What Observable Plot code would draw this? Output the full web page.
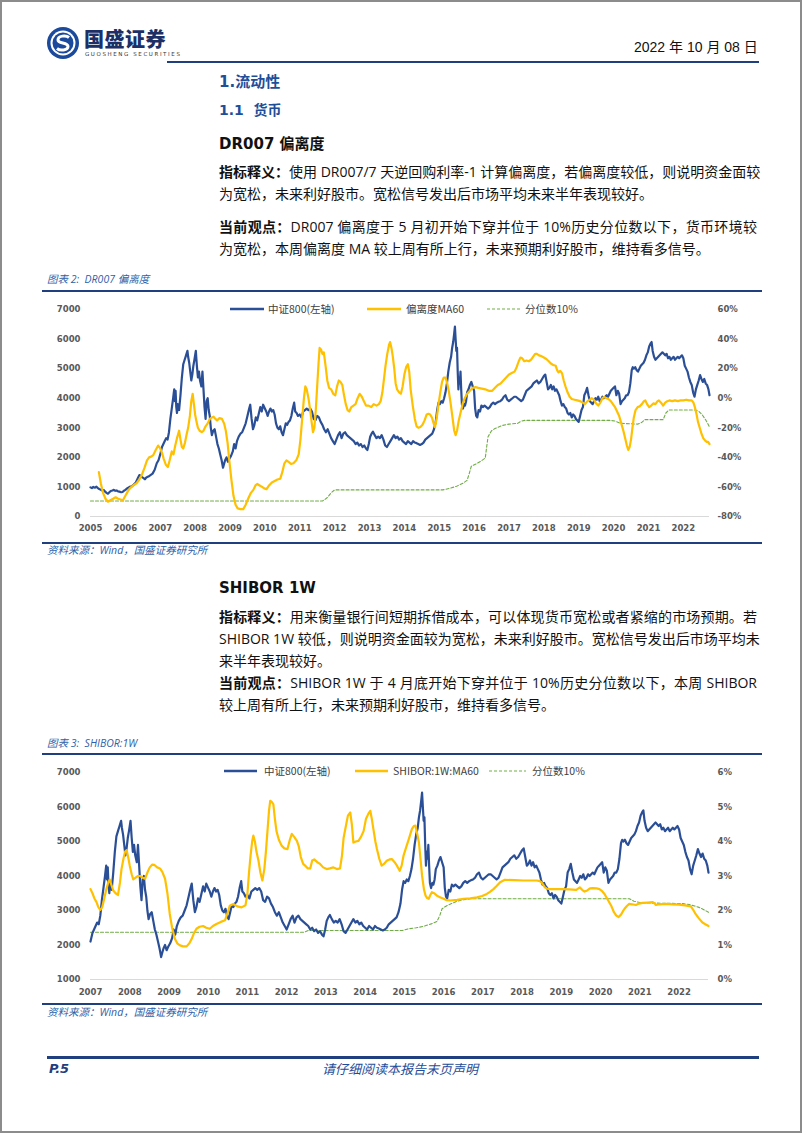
<!DOCTYPE html>
<html><head><meta charset="utf-8">
<script src="https://cdn.jsdelivr.net/npm/d3@7"></script>
<script src="https://cdn.jsdelivr.net/npm/@observablehq/plot@0.6"></script>
<style>
html,body{margin:0;padding:0;background:#fff;}
#page{position:relative;width:802px;height:1133px;box-sizing:border-box;border:2px solid #8c8c8c;background:#fff;overflow:hidden;font-family:"Noto Sans CJK SC",sans-serif;}
.abs{position:absolute;white-space:nowrap;}
.txt{position:absolute;left:217px;width:538px;height:22px;line-height:22px;font-size:14px;color:#111;font-family:"Open Sans","Noto Sans CJK SC",sans-serif;white-space:nowrap;}
.j{text-align:justify;text-align-last:justify;}
.b{font-weight:bold;}
.hd{color:#1f4e99;font-weight:bold;font-size:15px;font-family:"DejaVu Sans","Noto Sans CJK SC",sans-serif;}
.cap{font-style:italic;color:#2f5fa7;font-size:10.5px;font-family:"Open Sans","Noto Sans CJK SC",sans-serif;}
.rule{position:absolute;background:#1f3f7f;}
.leg{position:absolute;font-size:10.5px;color:#404040;font-family:"Noto Sans CJK SC",sans-serif;white-space:nowrap;line-height:14px;}
.chart{position:absolute;}
</style></head>
<body>
<div id="page">
  <!-- header -->
  <svg class="abs" style="left:44px;top:24px" width="34" height="34" viewBox="0 0 34 34">
    <circle cx="17" cy="17" r="16" fill="#1b4a9c"/>
    <circle cx="17" cy="17" r="12.5" fill="#fff"/>
    <circle cx="17" cy="17" r="10.5" fill="#1b4a9c"/>
    <path d="M23 11.5 C20 9 12 9.5 12 14 C12 18 22 16 22 20.5 C22 24.5 14 25 11 22.5" fill="none" stroke="#fff" stroke-width="3"/>
  </svg>
  <div class="abs" style="left:82px;top:25px;font-size:20px;font-weight:900;color:#1c2f66;letter-spacing:0.5px;line-height:24px;">国盛证券</div>
  <div class="abs" style="left:83px;top:49px;font-size:5.5px;color:#333;letter-spacing:1.6px;font-family:'DejaVu Sans';line-height:7px;">GUOSHENG SECURITIES</div>
  <div class="abs" style="left:632px;top:36px;font-size:14px;color:#111;font-family:'Liberation Sans','Noto Sans CJK SC';line-height:18px;">2022 年 10 月 08 日</div>
  <div class="rule" style="left:165px;top:59px;width:592px;height:2px;"></div>

  <div class="abs hd" style="left:217px;top:70px;line-height:20px;">1.流动性</div>
  <div class="abs hd" style="left:217px;top:98px;line-height:20px;font-size:14px;">1.1&nbsp; 货币</div>
  <div class="abs" style="left:217px;top:132px;line-height:20px;font-size:15px;font-weight:bold;color:#111;font-family:'DejaVu Sans','Noto Sans CJK SC';">DR007 偏离度</div>

  <div class="txt j" style="top:159px;"><span class="b">指标释义：</span>使用 DR007/7 天逆回购利率-1 计算偏离度，若偏离度较低，则说明资金面较</div>
  <div class="txt" style="top:181px;">为宽松，未来利好股市。宽松信号发出后市场平均未来半年表现较好。</div>
  <div class="txt j" style="top:214px;"><span class="b">当前观点：</span>DR007 偏离度于 5 月初开始下穿并位于 10%历史分位数以下，货币环境较</div>
  <div class="txt" style="top:236px;">为宽松，本周偏离度 MA 较上周有所上行，未来预期利好股市，维持看多信号。</div>

  <div class="abs cap" style="left:45px;top:270px;line-height:14px;">图表 2:&nbsp; DR007 偏离度</div>
  <div class="rule" style="left:40px;top:288px;width:720px;height:2px;"></div>
  <div id="c1" class="chart" style="left:40px;top:292px;"></div>
  <div id="l1"></div>
  <div class="rule" style="left:40px;top:540px;width:720px;height:1.5px;"></div>
  <div class="abs cap" style="left:45px;top:541px;line-height:14px;">资料来源：Wind，国盛证券研究所</div>

  <div class="abs" style="left:217px;top:576px;line-height:20px;font-size:15px;font-weight:bold;color:#111;font-family:'DejaVu Sans','Noto Sans CJK SC';">SHIBOR 1W</div>
  <div class="txt j" style="top:604px;"><span class="b">指标释义：</span>用来衡量银行间短期拆借成本，可以体现货币宽松或者紧缩的市场预期。若</div>
  <div class="txt j" style="top:626px;">SHIBOR 1W 较低，则说明资金面较为宽松，未来利好股市。宽松信号发出后市场平均未</div>
  <div class="txt" style="top:648px;">来半年表现较好。</div>
  <div class="txt j" style="top:670px;"><span class="b">当前观点：</span>SHIBOR 1W 于 4 月底开始下穿并位于 10%历史分位数以下，本周 SHIBOR</div>
  <div class="txt" style="top:692px;">较上周有所上行，未来预期利好股市，维持看多信号。</div>

  <div class="abs cap" style="left:45px;top:734px;line-height:14px;">图表 3:&nbsp; SHIBOR:1W</div>
  <div class="rule" style="left:40px;top:751px;width:720px;height:2px;"></div>
  <div id="c2" class="chart" style="left:40px;top:755px;"></div>
  <div id="l2"></div>
  <div class="rule" style="left:40px;top:1001px;width:720px;height:1.5px;"></div>
  <div class="abs cap" style="left:45px;top:1003px;line-height:14px;">资料来源：Wind，国盛证券研究所</div>

  <div class="rule" style="left:45px;top:1054px;width:712px;height:3px;"></div>
  <div class="abs" style="left:47px;top:1059px;font-size:13px;font-weight:bold;font-style:italic;color:#1f3f7f;font-family:'DejaVu Sans';line-height:16px;">P.5</div>
  <div class="abs" style="left:320px;top:1059px;font-size:13px;font-style:italic;color:#1f4e99;line-height:16px;">请仔细阅读本报告末页声明</div>
</div>
<script>
// ---------- data ----------
const years1 = d3.range(2005, 2023);
const years2 = d3.range(2007, 2023);
const leftTicks1 = d3.range(0, 7001, 1000);
const leftTicks2 = d3.range(1000, 7001, 1000);
const rightTicks1 = [-80, -60, -40, -20, 0, 20, 40, 60];
const rightTicks2 = [0, 1, 2, 3, 4, 5, 6];
const legend1 = ["中证800(左轴)", "偏离度MA60", "分位数10%"];
const legend2 = ["中证800(左轴)", "SHIBOR:1W:MA60", "分位数10%"];

// 中证800 index level [year, value]
const csi800 = [
[2005.00,985],[2005.04,960],[2005.08,1000],[2005.13,975],[2005.17,1010],[2005.21,960],[2005.25,930],[2005.30,900],[2005.34,880],[2005.38,895],[2005.42,840],[2005.46,800],[2005.50,770],[2005.54,820],[2005.58,860],[2005.63,880],[2005.67,900],[2005.71,870],[2005.75,880],[2005.79,850],[2005.83,840],[2005.88,820],[2005.92,830],[2005.96,870],
[2006.00,900],[2006.06,960],[2006.12,1000],[2006.18,1020],[2006.24,1080],[2006.30,1150],[2006.36,1300],[2006.40,1400],[2006.44,1380],[2006.48,1330],[2006.52,1300],[2006.56,1260],[2006.60,1320],[2006.66,1350],[2006.72,1400],[2006.78,1450],[2006.84,1580],[2006.90,1800],[2006.95,1900],
[2007.00,2100],[2007.05,2350],[2007.09,2450],[2007.13,2550],[2007.17,2650],[2007.21,2600],[2007.25,2850],[2007.29,3300],[2007.33,3650],[2007.37,4000],[2007.40,4300],[2007.42,3900],[2007.44,4250],[2007.46,3700],[2007.48,3500],[2007.50,3800],[2007.54,3600],[2007.58,4100],[2007.62,4700],[2007.66,5150],[2007.70,5300],[2007.74,5450],[2007.78,5600],[2007.80,5400],[2007.83,5200],[2007.86,4900],[2007.89,4600],[2007.92,4800],[2007.95,5100],[2007.98,5300],
[2008.02,5600],[2008.05,5100],[2008.08,4700],[2008.11,4900],[2008.14,4600],[2008.18,4400],[2008.21,4900],[2008.24,4300],[2008.27,3700],[2008.30,3300],[2008.33,3900],[2008.36,4000],[2008.39,3600],[2008.42,3400],[2008.45,3000],[2008.48,2750],[2008.52,2900],[2008.56,2950],[2008.60,2700],[2008.64,2450],[2008.68,2300],[2008.72,2100],[2008.76,1900],[2008.80,1650],[2008.83,1780],[2008.86,1900],[2008.90,2000],[2008.94,1850],[2008.98,1950],
[2009.03,2050],[2009.08,2200],[2009.12,2450],[2009.16,2300],[2009.20,2550],[2009.25,2700],[2009.30,2800],[2009.35,2850],[2009.40,3000],[2009.45,3150],[2009.50,3400],[2009.55,3650],[2009.58,3780],[2009.62,3300],[2009.66,2950],[2009.70,3100],[2009.74,3350],[2009.78,3250],[2009.82,3450],[2009.87,3700],[2009.91,3550],[2009.95,3780],
[2010.00,3650],[2010.04,3550],[2010.08,3400],[2010.12,3550],[2010.16,3650],[2010.20,3550],[2010.24,3600],[2010.28,3450],[2010.32,3150],[2010.36,3000],[2010.40,2950],[2010.44,3050],[2010.48,2850],[2010.52,2750],[2010.56,2950],[2010.60,3150],[2010.64,3100],[2010.68,3200],[2010.72,3250],[2010.76,3400],[2010.80,3650],[2010.84,3850],[2010.87,3550],[2010.91,3500],[2010.95,3400],
[2011.00,3450],[2011.05,3350],[2011.10,3550],[2011.15,3600],[2011.20,3650],[2011.25,3600],[2011.30,3650],[2011.35,3550],[2011.40,3300],[2011.45,3250],[2011.50,3400],[2011.55,3350],[2011.60,3200],[2011.65,3100],[2011.70,2950],[2011.75,2850],[2011.80,2950],[2011.85,2800],[2011.90,2650],[2011.95,2550],
[2012.00,2450],[2012.05,2600],[2012.10,2750],[2012.15,2850],[2012.20,2650],[2012.25,2800],[2012.30,2850],[2012.35,2750],[2012.40,2700],[2012.45,2650],[2012.50,2600],[2012.55,2550],[2012.60,2450],[2012.65,2500],[2012.70,2400],[2012.75,2450],[2012.80,2350],[2012.85,2400],[2012.90,2300],[2012.94,2250],[2012.98,2450],
[2013.02,2700],[2013.06,2800],[2013.10,2870],[2013.15,2750],[2013.20,2650],[2013.25,2700],[2013.30,2650],[2013.35,2750],[2013.40,2600],[2013.45,2400],[2013.50,2350],[2013.55,2450],[2013.60,2550],[2013.65,2650],[2013.70,2750],[2013.75,2650],[2013.80,2700],[2013.85,2600],[2013.90,2650],[2013.95,2550],
[2014.00,2500],[2014.05,2450],[2014.10,2550],[2014.15,2500],[2014.20,2450],[2014.25,2550],[2014.30,2500],[2014.35,2480],[2014.40,2450],[2014.45,2420],[2014.50,2450],[2014.55,2500],[2014.60,2600],[2014.65,2650],[2014.70,2700],[2014.75,2750],[2014.80,2800],[2014.85,2950],[2014.90,3200],[2014.94,3600],[2014.98,3850],
[2015.02,3800],[2015.06,3900],[2015.10,3850],[2015.14,4000],[2015.18,4200],[2015.22,4500],[2015.26,4900],[2015.30,5200],[2015.34,5400],[2015.37,5700],[2015.40,5900],[2015.43,6200],[2015.45,6420],[2015.47,6000],[2015.49,5600],[2015.51,5700],[2015.53,4900],[2015.55,4300],[2015.57,4700],[2015.59,4500],[2015.61,4900],[2015.63,4300],[2015.65,3800],[2015.68,3650],[2015.71,3800],[2015.74,3750],[2015.77,3900],[2015.80,4200],[2015.84,4300],[2015.88,4450],[2015.92,4550],[2015.96,4400],
[2016.00,4250],[2016.03,3650],[2016.06,3400],[2016.09,3350],[2016.13,3600],[2016.17,3550],[2016.21,3750],[2016.25,3700],[2016.30,3750],[2016.35,3700],[2016.40,3650],[2016.45,3700],[2016.50,3800],[2016.55,3850],[2016.60,3800],[2016.65,3850],[2016.70,3880],[2016.75,3900],[2016.80,3950],[2016.85,4050],[2016.90,4100],[2016.95,3950],
[2017.00,3900],[2017.05,3950],[2017.10,4000],[2017.15,4050],[2017.20,4050],[2017.25,4000],[2017.30,3950],[2017.35,3900],[2017.40,3950],[2017.45,4100],[2017.50,4250],[2017.55,4300],[2017.60,4350],[2017.65,4400],[2017.70,4500],[2017.75,4550],[2017.80,4600],[2017.85,4500],[2017.90,4550],[2017.95,4650],
[2018.00,4750],[2018.04,4800],[2018.08,4550],[2018.12,4300],[2018.16,4350],[2018.20,4450],[2018.24,4300],[2018.28,4400],[2018.32,4250],[2018.36,4300],[2018.40,4200],[2018.44,4100],[2018.48,3900],[2018.52,3750],[2018.56,3800],[2018.60,3700],[2018.64,3650],[2018.68,3500],[2018.72,3450],[2018.76,3500],[2018.80,3350],[2018.84,3450],[2018.88,3400],[2018.92,3300],[2018.96,3250],
[2019.00,3200],[2019.04,3400],[2019.08,3600],[2019.12,3700],[2019.16,4100],[2019.20,4200],[2019.24,4350],[2019.28,4100],[2019.32,3900],[2019.36,3850],[2019.40,3800],[2019.44,3900],[2019.48,4000],[2019.52,3950],[2019.56,4050],[2019.60,3900],[2019.64,3950],[2019.68,4050],[2019.72,4000],[2019.76,4050],[2019.80,4100],[2019.84,4050],[2019.88,4150],[2019.92,4250],[2019.96,4300],
[2020.00,4350],[2020.04,4400],[2020.08,4100],[2020.12,4250],[2020.16,4150],[2020.20,3800],[2020.24,3900],[2020.28,3950],[2020.32,4000],[2020.36,4100],[2020.40,4100],[2020.44,4200],[2020.48,4500],[2020.52,4950],[2020.55,5050],[2020.58,5000],[2020.62,5050],[2020.66,4950],[2020.70,4900],[2020.74,5000],[2020.78,5100],[2020.82,5150],[2020.86,5200],[2020.90,5300],[2020.94,5450],[2020.98,5550],
[2021.02,5750],[2021.06,5850],[2021.09,5900],[2021.12,5600],[2021.16,5400],[2021.20,5300],[2021.24,5350],[2021.28,5400],[2021.32,5450],[2021.36,5500],[2021.40,5550],[2021.44,5500],[2021.48,5450],[2021.52,5500],[2021.56,5350],[2021.60,5400],[2021.64,5300],[2021.68,5350],[2021.72,5400],[2021.76,5300],[2021.80,5350],[2021.84,5400],[2021.88,5350],[2021.92,5400],[2021.96,5450],
[2022.00,5350],[2022.04,5100],[2022.08,5000],[2022.12,4900],[2022.16,4700],[2022.20,4550],[2022.24,4450],[2022.28,4200],[2022.32,4050],[2022.36,4300],[2022.40,4450],[2022.44,4600],[2022.48,4780],[2022.52,4650],[2022.56,4550],[2022.60,4650],[2022.64,4500],[2022.68,4450],[2022.72,4300],[2022.75,4100]
];

// DR007 偏离度 MA60 (%) [year, value]
const devMA60 = [
[2005.24,-50],[2005.30,-58],[2005.36,-64],[2005.43,-68],[2005.50,-70],[2005.57,-69],[2005.65,-68],[2005.72,-67],[2005.79,-68],[2005.86,-68.5],[2005.93,-69],[2006.00,-66],[2006.07,-63],[2006.13,-61],[2006.22,-59],[2006.32,-57.5],[2006.40,-55],[2006.47,-52],[2006.55,-47],[2006.62,-42],[2006.68,-40],[2006.74,-39.5],[2006.80,-38.5],[2006.87,-35],[2006.94,-32],
[2007.00,-34],[2007.05,-37],[2007.10,-41],[2007.16,-45],[2007.22,-46.5],[2007.27,-42],[2007.33,-36],[2007.38,-38],[2007.43,-32],[2007.48,-27],[2007.54,-22],[2007.58,-28],[2007.62,-33],[2007.66,-34],[2007.71,-30],[2007.76,-24],[2007.80,-20],[2007.85,-12],[2007.89,-2],[2007.93,3],[2007.97,-5],
[2008.00,-11],[2008.04,-16],[2008.08,-20],[2008.13,-22],[2008.19,-23],[2008.24,-22],[2008.30,-19],[2008.36,-17],[2008.42,-14],[2008.48,-13],[2008.53,-12.5],[2008.58,-14],[2008.63,-15],[2008.70,-13.5],[2008.77,-14],[2008.83,-17],[2008.88,-22],[2008.93,-30],[2008.98,-42],
[2009.04,-55],[2009.10,-66],[2009.16,-72],[2009.22,-74.5],[2009.30,-75],[2009.38,-75],[2009.45,-72],[2009.52,-68],[2009.60,-64],[2009.67,-62],[2009.73,-59],[2009.78,-58],[2009.85,-59],[2009.92,-60],[2009.98,-61],
[2010.05,-61.5],[2010.12,-59],[2010.20,-57],[2010.28,-56],[2010.36,-55],[2010.44,-54.5],[2010.50,-50],[2010.56,-44],[2010.62,-42],[2010.68,-43],[2010.75,-44.5],[2010.82,-44],[2010.90,-42],[2010.97,-38],
[2011.02,-28],[2011.07,-14],[2011.12,0],[2011.16,8],[2011.20,6],[2011.25,0],[2011.30,-8],[2011.34,-16],[2011.38,-23],[2011.42,-20],[2011.46,-8],[2011.50,8],[2011.54,24],[2011.57,34],[2011.61,33],[2011.65,30],[2011.69,31],[2011.74,22],[2011.79,12],[2011.84,7],[2011.90,6],[2011.96,3],
[2012.02,2],[2012.07,8],[2012.12,12],[2012.17,11],[2012.22,9],[2012.27,2],[2012.32,-4],[2012.37,-8],[2012.42,-9],[2012.48,-6],[2012.54,-5],[2012.60,-4],[2012.66,0],[2012.72,3],[2012.78,1],[2012.84,-2],[2012.90,-5],[2012.97,-5],
[2013.05,-6],[2013.12,-4],[2013.20,-5],[2013.27,-4],[2013.32,-2],[2013.37,4],[2013.42,14],[2013.46,22],[2013.51,30],[2013.56,36],[2013.59,38],[2013.63,34],[2013.67,28],[2013.71,20],[2013.75,10],[2013.79,6],[2013.85,4],[2013.90,3],[2013.95,8],
[2014.00,16],[2014.05,21],[2014.10,23],[2014.14,18],[2014.18,6],[2014.24,-5],[2014.30,-14],[2014.35,-19],[2014.40,-20],[2014.46,-19.5],[2014.52,-18],[2014.58,-15],[2014.64,-11],[2014.69,-10.5],[2014.74,-11],[2014.79,-13],[2014.84,-17],[2014.88,-19.5],[2014.93,-13],[2014.98,-4],
[2015.03,4],[2015.08,11],[2015.13,14],[2015.18,14],[2015.23,10],[2015.28,4],[2015.33,-4],[2015.38,-13],[2015.43,-22],[2015.47,-25],[2015.51,-22],[2015.56,-15],[2015.61,-10],[2015.67,-4],[2015.73,0],[2015.80,3],[2015.88,5],[2015.96,7],
[2016.04,7.5],[2016.12,7],[2016.22,6.5],[2016.32,6],[2016.42,5],[2016.52,5],[2016.60,7],[2016.68,9],[2016.76,10],[2016.84,12],[2016.92,14],
[2017.00,16],[2017.08,17],[2017.16,18],[2017.22,21],[2017.28,25],[2017.33,27.5],[2017.38,27],[2017.44,25],[2017.50,25.5],[2017.57,25],[2017.63,26],[2017.69,28],[2017.75,30],[2017.80,30],[2017.86,29],[2017.93,28.5],
[2018.00,27.5],[2018.07,26.5],[2018.14,25],[2018.20,23.5],[2018.27,22.5],[2018.34,22],[2018.38,19],[2018.42,17.5],[2018.47,18.5],[2018.52,17],[2018.57,12],[2018.62,8],[2018.68,4],[2018.74,1],[2018.80,-0.5],[2018.88,-1],[2018.96,-1.5],
[2019.04,-2],[2019.12,-3],[2019.18,-4],[2019.25,-2],[2019.32,-1],[2019.37,0],[2019.43,-1],[2019.50,-3.5],[2019.56,-5],[2019.62,-3],[2019.68,0],[2019.73,0.8],[2019.79,0],[2019.85,-0.5],[2019.92,-2],[2019.98,-4],
[2020.04,-6],[2020.10,-9],[2020.16,-12],[2020.22,-17],[2020.28,-22],[2020.34,-28],[2020.38,-32],[2020.42,-35],[2020.46,-33],[2020.50,-28],[2020.54,-20],[2020.58,-13],[2020.63,-8],[2020.69,-6],[2020.75,-5.5],[2020.81,-4],[2020.87,-2],[2020.91,-1.5],[2020.96,-4],
[2021.02,-6],[2021.08,-5],[2021.14,-3.5],[2021.20,-4],[2021.26,-2],[2021.30,-1.5],[2021.36,-3],[2021.42,-5],[2021.48,-3],[2021.54,-2],[2021.60,-1.5],[2021.68,-2],[2021.76,-1.5],[2021.84,-2],[2021.92,-1.5],
[2022.00,-1.5],[2022.08,-1],[2022.16,-1.5],[2022.24,-1.5],[2022.29,-3],[2022.33,-6],[2022.38,-11],[2022.42,-16],[2022.47,-20],[2022.52,-24],[2022.57,-27],[2022.62,-28.5],[2022.67,-29.5],[2022.71,-29.5],[2022.75,-31]
];

// DR007 偏离度 10% 分位数 (%)
const devQ10 = [
[2005.00,-69.5],[2011.65,-69.5],[2011.72,-68.5],[2011.80,-67],[2011.90,-64],[2012.00,-62],[2015.10,-62],[2015.30,-61],[2015.50,-59.5],[2015.68,-57.5],[2015.80,-55.5],[2015.86,-51],[2015.92,-46],[2016.05,-44.5],[2016.20,-42.5],[2016.32,-40.5],[2016.36,-33],[2016.40,-26],[2016.50,-22],[2016.60,-20.5],[2016.80,-18.5],[2017.00,-17.5],[2017.25,-17],[2017.35,-15.5],[2017.45,-15],[2019.90,-15],[2020.05,-15.5],[2020.20,-17],[2020.70,-17.5],[2020.80,-16.5],[2020.90,-14.5],[2021.42,-14.5],[2021.50,-10],[2021.58,-8],[2022.35,-8],[2022.45,-9],[2022.55,-11.5],[2022.65,-15],[2022.75,-19.5]
];

// SHIBOR:1W MA60 (%)
const shiborMA60 = [
[2007.00,2.62],[2007.05,2.5],[2007.10,2.35],[2007.15,2.25],[2007.20,2.1],[2007.25,2.02],[2007.30,2.1],[2007.35,2.35],[2007.40,2.6],[2007.45,2.8],[2007.49,2.9],[2007.53,2.75],[2007.58,2.58],[2007.64,2.5],[2007.70,2.45],[2007.75,2.8],[2007.79,3.2],[2007.84,3.5],[2007.88,3.7],[2007.92,3.75],[2007.96,3.55],
[2008.00,3.3],[2008.05,3.05],[2008.09,2.9],[2008.15,2.95],[2008.21,3.0],[2008.27,3.0],[2008.33,2.95],[2008.39,2.92],[2008.45,3.1],[2008.51,3.25],[2008.57,3.33],[2008.63,3.32],[2008.70,3.25],[2008.77,3.22],[2008.83,3.12],[2008.90,2.92],[2008.96,2.5],
[2009.02,1.9],[2009.08,1.5],[2009.15,1.18],[2009.21,1.05],[2009.28,0.99],[2009.36,0.96],[2009.45,0.96],[2009.52,1.05],[2009.58,1.18],[2009.64,1.35],[2009.70,1.47],[2009.78,1.53],[2009.87,1.55],[2009.95,1.5],
[2010.04,1.47],[2010.12,1.55],[2010.21,1.61],[2010.32,1.67],[2010.43,1.72],[2010.50,1.95],[2010.55,2.14],[2010.64,2.19],[2010.74,2.12],[2010.85,2.09],[2010.95,2.15],
[2011.00,2.5],[2011.04,3.1],[2011.08,3.6],[2011.12,4.0],[2011.15,4.17],[2011.19,4.0],[2011.23,3.7],[2011.28,3.45],[2011.33,3.1],[2011.38,2.87],[2011.43,3.2],[2011.47,3.7],[2011.51,4.3],[2011.55,4.9],[2011.58,5.18],[2011.62,5.15],[2011.66,5.08],[2011.70,4.65],[2011.74,4.3],[2011.80,4.05],[2011.87,3.88],[2011.94,3.8],
[2012.02,3.78],[2012.08,4.05],[2012.13,4.22],[2012.20,4.12],[2012.26,4.02],[2012.31,3.85],[2012.36,3.55],[2012.42,3.35],[2012.47,3.3],[2012.54,3.22],[2012.60,3.22],[2012.65,3.45],[2012.70,3.48],[2012.78,3.4],[2012.85,3.35],[2012.93,3.25],
[2013.02,3.2],[2013.10,3.22],[2013.19,3.25],[2013.28,3.2],[2013.36,3.22],[2013.41,3.6],[2013.45,4.1],[2013.50,4.4],[2013.56,4.75],[2013.62,4.84],[2013.66,4.5],[2013.70,3.97],[2013.76,4.0],[2013.83,4.02],[2013.90,4.15],[2013.96,4.3],
[2014.02,4.65],[2014.08,4.8],[2014.13,4.89],[2014.17,4.65],[2014.21,4.36],[2014.26,4.0],[2014.30,3.78],[2014.36,3.5],[2014.42,3.3],[2014.48,3.35],[2014.55,3.44],[2014.62,3.48],[2014.68,3.49],[2014.75,3.4],[2014.81,3.3],[2014.88,3.15],[2014.93,3.3],[2014.98,3.6],
[2015.05,3.85],[2015.12,4.1],[2015.19,4.36],[2015.24,4.45],[2015.28,4.46],[2015.33,4.2],[2015.37,3.97],[2015.41,3.5],[2015.45,3.01],[2015.50,2.6],[2015.54,2.43],[2015.58,2.36],[2015.62,2.34],[2015.66,2.45],[2015.70,2.53],[2015.76,2.5],[2015.83,2.43],[2015.92,2.38],
[2016.00,2.34],[2016.08,2.3],[2016.17,2.29],[2016.34,2.31],[2016.51,2.34],[2016.68,2.35],[2016.85,2.38],[2016.98,2.42],
[2017.10,2.48],[2017.18,2.54],[2017.27,2.62],[2017.35,2.71],[2017.44,2.82],[2017.56,2.89],[2017.80,2.88],
[2018.03,2.87],[2018.20,2.87],[2018.37,2.87],[2018.45,2.85],[2018.49,2.82],[2018.54,2.74],[2018.58,2.67],[2018.64,2.63],[2018.71,2.62],[2018.85,2.62],
[2019.04,2.62],[2019.20,2.61],[2019.38,2.6],[2019.47,2.67],[2019.53,2.6],[2019.59,2.55],[2019.66,2.58],[2019.73,2.64],[2019.80,2.65],[2019.90,2.64],[2019.97,2.62],
[2020.04,2.56],[2020.10,2.48],[2020.18,2.32],[2020.27,2.14],[2020.34,1.95],[2020.40,1.85],[2020.46,1.81],[2020.52,1.88],[2020.57,1.98],[2020.61,2.05],[2020.67,2.13],[2020.73,2.19],[2020.80,2.18],[2020.90,2.16],[2020.98,2.2],
[2021.07,2.22],[2021.20,2.23],[2021.33,2.24],[2021.38,2.2],[2021.41,2.16],[2021.50,2.18],[2021.66,2.19],[2021.83,2.18],
[2022.00,2.17],[2022.15,2.15],[2022.30,2.12],[2022.36,2.02],[2022.42,1.9],[2022.50,1.78],[2022.59,1.66],[2022.67,1.6],[2022.75,1.55]
];

// SHIBOR 10% 分位数 (%)
const shiborQ10 = [
[2007.00,1.37],[2012.45,1.37],[2012.55,1.42],[2014.95,1.42],[2015.10,1.47],[2015.30,1.5],[2015.49,1.54],[2015.70,1.62],[2015.83,1.68],[2015.90,1.85],[2015.96,2.05],[2016.08,2.14],[2016.20,2.2],[2016.34,2.27],[2016.50,2.31],[2016.68,2.34],[2020.73,2.34],[2020.85,2.27],[2021.00,2.23],[2021.07,2.22],[2022.10,2.2],[2022.26,2.17],[2022.40,2.13],[2022.51,2.09],[2022.62,2.03],[2022.75,1.95]
];

// ---------- drawing ----------
const BLUE = "#2b4f96", YELLOW = "#ffc000", GREEN = "#70ad47";
const axisStyle = {fontFamily: "DejaVu Sans", fontSize: "8.5px", fontWeight: "bold", color: "#595959", background: "transparent", overflow: "visible"};

// chart 1: right axis -80%..60% mapped onto left 0..7000
const toL1 = p => (p + 80) * 50;
const c1 = Plot.plot({
  width: 720, height: 248,
  marginLeft: 48, marginRight: 53, marginTop: 15, marginBottom: 26,
  style: axisStyle,
  x: {domain: [2005, 2022.75]},
  y: {domain: [0, 7000]},
  marks: [
    Plot.ruleY([0], {stroke: "#d9d9d9", strokeWidth: 1}),
    Plot.axisX(years1, {tickSize: 0, tickPadding: 8, tickFormat: d => String(d), label: null}),
    Plot.axisY(leftTicks1, {anchor: "left", tickSize: 0, tickPadding: 10, tickFormat: d => String(d), label: null}),
    Plot.axisY(rightTicks1.map(toL1), {anchor: "right", tickSize: 0, tickPadding: 8, textAnchor: "start", tickFormat: v => Math.round(v / 50 - 80) + "%", label: null}),
    Plot.line(devQ10, {x: d => d[0], y: d => toL1(d[1]), stroke: GREEN, strokeWidth: 1.1, strokeDasharray: "3,2"}),
    Plot.line(csi800, {x: d => d[0], y: d => d[1], stroke: BLUE, strokeWidth: 2.2}),
    Plot.line(devMA60, {x: d => d[0], y: d => toL1(d[1]), stroke: YELLOW, strokeWidth: 2.2})
  ]
});
document.getElementById("c1").appendChild(c1);

// chart 2: right axis 0%..6% mapped onto left 1000..7000
const toL2 = p => 1000 + p * 1000;
const c2 = Plot.plot({
  width: 720, height: 246,
  marginLeft: 48, marginRight: 54, marginTop: 15, marginBottom: 24,
  style: axisStyle,
  x: {domain: [2007, 2022.75]},
  y: {domain: [1000, 7000]},
  marks: [
    Plot.ruleY([1000], {stroke: "#d9d9d9", strokeWidth: 1}),
    Plot.axisX(years2, {tickSize: 0, tickPadding: 9, tickFormat: d => String(d), label: null}),
    Plot.axisY(leftTicks2, {anchor: "left", tickSize: 0, tickPadding: 10, tickFormat: d => String(d), label: null}),
    Plot.axisY(rightTicks2.map(toL2), {anchor: "right", tickSize: 0, tickPadding: 9, textAnchor: "start", tickFormat: v => Math.round((v - 1000) / 1000) + "%", label: null}),
    Plot.line(shiborQ10, {x: d => d[0], y: d => toL2(d[1]), stroke: GREEN, strokeWidth: 1.1, strokeDasharray: "3,2"}),
    Plot.line(csi800.filter(d => d[0] >= 2007), {x: d => d[0], y: d => d[1], stroke: BLUE, strokeWidth: 2.2}),
    Plot.line(shiborMA60, {x: d => d[0], y: d => toL2(d[1]), stroke: YELLOW, strokeWidth: 2.2})
  ]
});
document.getElementById("c2").appendChild(c2);

// legends (HTML, over the plot area)
function legend(host, cy, items) {
  const page = document.getElementById("page");
  items.forEach(it => {
    const s = document.createElementNS("http://www.w3.org/2000/svg", "svg");
    s.setAttribute("width", it.w); s.setAttribute("height", 6);
    s.style.position = "absolute"; s.style.left = it.x + "px"; s.style.top = (cy - 3) + "px";
    const l = document.createElementNS("http://www.w3.org/2000/svg", "line");
    l.setAttribute("x1", 0); l.setAttribute("x2", it.w); l.setAttribute("y1", 3); l.setAttribute("y2", 3);
    l.setAttribute("stroke", it.color); l.setAttribute("stroke-width", it.dash ? 1.2 : 2.5);
    if (it.dash) l.setAttribute("stroke-dasharray", "3,2");
    s.appendChild(l); page.appendChild(s);
    const t = document.createElement("div");
    t.className = "leg"; t.textContent = it.label;
    t.style.left = it.tx + "px"; t.style.top = (cy - 7) + "px";
    page.appendChild(t);
  });
}
legend("l1", 307, [
  {x: 228, w: 34, tx: 266, color: BLUE, label: legend1[0]},
  {x: 365, w: 34, tx: 404, color: YELLOW, label: legend1[1]},
  {x: 485, w: 34, tx: 523, color: GREEN, dash: true, label: legend1[2]}
]);
legend("l2", 769, [
  {x: 222, w: 33, tx: 262, color: BLUE, label: legend2[0]},
  {x: 353, w: 33, tx: 391, color: YELLOW, label: legend2[1]},
  {x: 487, w: 37, tx: 530, color: GREEN, dash: true, label: legend2[2]}
]);
</script>
</body></html>
